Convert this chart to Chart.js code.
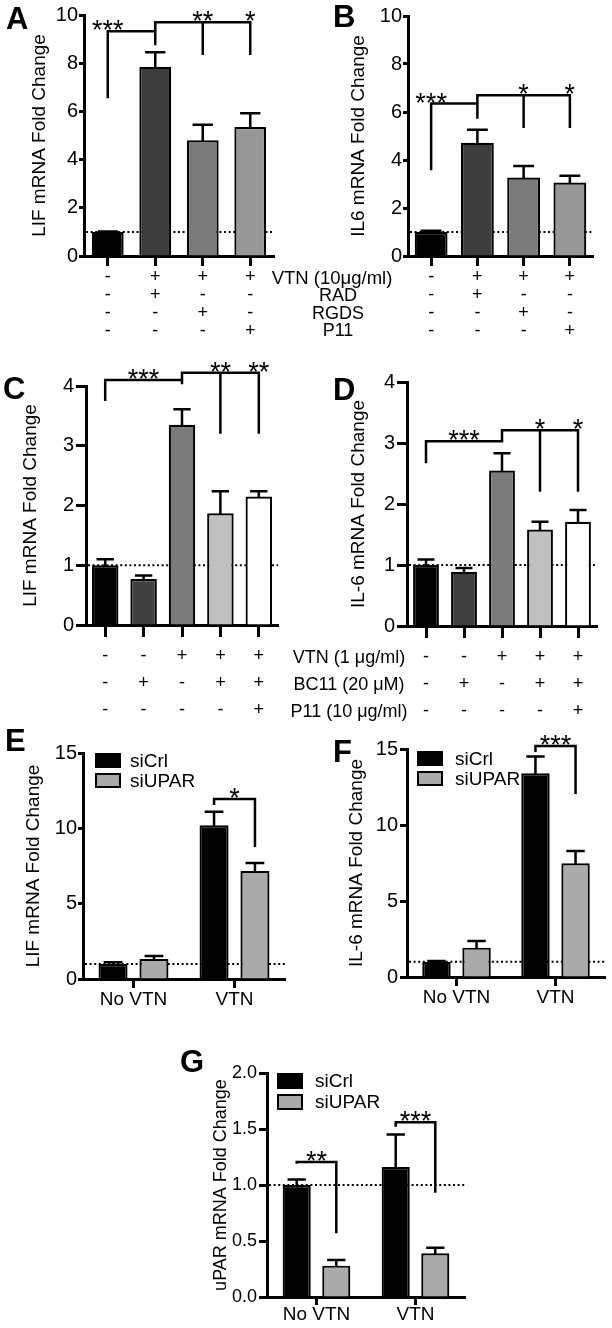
<!DOCTYPE html>
<html><head><meta charset="utf-8">
<script src="https://cdn.jsdelivr.net/npm/chart.js@4.4.1/dist/chart.umd.min.js"></script>
<style>
html,body{margin:0;padding:0;background:#fff;}
body{width:612px;height:1328px;position:relative;overflow:hidden;font-family:"Liberation Sans",Arial,Helvetica,sans-serif;color:#000;}
canvas{position:absolute;}
.lt{position:absolute;font-weight:bold;font-size:31px;line-height:1;}
.rl{position:absolute;font-size:18px;line-height:1;white-space:nowrap;transform:translate(-50%,-50%);}
</style></head><body>
<canvas id="cA" width="300" height="345" style="left:0;top:0"></canvas>
<canvas id="cB" width="312" height="345" style="left:300px;top:0"></canvas>
<canvas id="cC" width="300" height="390" style="left:0;top:340px"></canvas>
<canvas id="cD" width="312" height="390" style="left:300px;top:340px"></canvas>
<canvas id="cE" width="300" height="300" style="left:0;top:720px"></canvas>
<canvas id="cF" width="312" height="300" style="left:300px;top:720px"></canvas>
<canvas id="cG" width="330" height="298" style="left:150px;top:1030px"></canvas>

<div class="lt" style="left:6px;top:3px">A</div>
<div class="lt" style="left:333px;top:1px">B</div>
<div class="lt" style="left:3px;top:373px">C</div>
<div class="lt" style="left:333px;top:374px">D</div>
<div class="lt" style="left:5px;top:725px">E</div>
<div class="lt" style="left:333px;top:736px">F</div>
<div class="lt" style="left:180px;top:1046px">G</div>

<div class="rl" style="left:332px;top:278px;font-size:18.5px">VTN (10μg/ml)</div>
<div class="rl" style="left:338px;top:295px">RAD</div>
<div class="rl" style="left:338px;top:313px">RGDS</div>
<div class="rl" style="left:338px;top:330px">P11</div>

<div class="rl" style="left:349px;top:657px">VTN (1 μg/ml)</div>
<div class="rl" style="left:349px;top:684px">BC11 (20 μM)</div>
<div class="rl" style="left:349px;top:711px">P11 (10 μg/ml)</div>

<script>
// ---------- DATA ----------
// Panels A & B: treatment rows (VTN 10 ug/ml, RAD, RGDS, P11)
const rowVTN10 = ['-', '+', '+', '+'];
const rowRAD   = ['-', '+', '-', '-'];
const rowRGDS  = ['-', '-', '+', '-'];
const rowP11a  = ['-', '-', '-', '+'];
const lifA     = [1.0, 7.85, 4.80, 5.35];
const lifAErr  = [0.02, 0.60, 0.65, 0.57];
const il6B     = [1.0, 4.72, 3.27, 3.06];
const il6BErr  = [0.05, 0.54, 0.48, 0.28];
const yTicksAB = [0, 2, 4, 6, 8, 10];

// Panels C & D: treatment rows (VTN 1 ug/ml, BC11, P11)
const rowVTN1  = ['-', '-', '+', '+', '+'];
const rowBC11  = ['-', '+', '-', '+', '+'];
const rowP11c  = ['-', '-', '-', '-', '+'];
const lifC     = [1.0, 0.77, 3.35, 1.87, 2.15];
const lifCErr  = [0.10, 0.06, 0.26, 0.37, 0.09];
const il6D     = [1.0, 0.89, 2.55, 1.58, 1.71];
const il6DErr  = [0.09, 0.06, 0.28, 0.13, 0.19];
const yTicksCD = [0, 1, 2, 3, 4];

// Panels E, F, G: grouped bars
const groups      = ['No VTN', 'VTN'];
const seriesNames = ['siCrl', 'siUPAR'];
const lifE_siCrl  = [1.0, 10.2];
const lifE_siUPAR = [1.33, 7.17];
const lifE_errCrl = [0.12, 0.9];
const lifE_errUP  = [0.2, 0.53];
const il6F_siCrl  = [1.0, 13.4];
const il6F_siUPAR = [1.93, 7.48];
const il6F_errCrl = [0.06, 1.1];
const il6F_errUP  = [0.44, 0.81];
const uparG_siCrl = [1.0, 1.16];
const uparG_siUPAR= [0.28, 0.39];
const uparG_errCrl= [0.05, 0.29];
const uparG_errUP = [0.05, 0.05];
const yTicksEF    = [0, 5, 10, 15];
const yTicksG     = [0, 0.5, 1.0, 1.5, 2.0];
const yTickLabelsG= ['0.0', '0.5', '1.0', '1.5', '2.0'];

// significance brackets: level, legs [category, dataset, bottom], stars
const sigA = [
  {level: 9.33, legs: [[0,0,6.55],[1,0,8.75]], stars: [['***',0,0]]},
  {level: 9.70, legs: [[1,0,9.33],[2,0,8.34],[3,0,8.34]], stars: [['**',2,0],['*',3,0]]}
];
const sigB = [
  {level: 6.35, legs: [[0,0,3.57],[1,0,5.72]], stars: [['***',0,0]]},
  {level: 6.70, legs: [[1,0,6.35],[2,0,5.33],[3,0,5.33]], stars: [['*',2,0],['*',3,0]]}
];
const sigC = [
  {level: 4.10, legs: [[0,0,3.75],[2,0,4.03]], stars: [['***',1,0]]},
  {level: 4.22, legs: [[2,0,4.10],[3,0,3.20],[4,0,3.20]], stars: [['**',3,0],['**',4,0]]}
];
const sigD = [
  {level: 3.03, legs: [[0,0,2.67],[2,0,3.03]], stars: [['***',1,0]]},
  {level: 3.21, legs: [[2,0,3.03],[3,0,2.20],[4,0,2.20]], stars: [['*',3,0],['*',4,0]]}
];
const sigE = [{level: 11.95, legs: [[1,0,11.55],[1,1,8.76]], stars: [['*','mid']]}];
const sigF = [{level: 15.2, legs: [[1,0,14.8],[1,1,12.04]], stars: [['***','mid']]}];
const sigG = [
  {level: 1.205, legs: [[0,0,1.19],[0,1,0.57]], stars: [['**','mid']]},
  {level: 1.56, legs: [[1,0,1.52],[1,1,0.93]], stars: [['***','mid']]}
];

// ---------- DRAWING ----------
const FONT = '"Liberation Sans", Arial, Helvetica, sans-serif';
Chart.defaults.font.family = FONT;
Chart.defaults.color = '#000';

function annotPlugin(ann) {
  return {
    id: 'annot',
    beforeDatasetsDraw(chart) {
      const {ctx, chartArea, scales: {y}} = chart;
      const py = y.getPixelForValue(ann.ref);
      ctx.save();
      ctx.strokeStyle = '#000'; ctx.lineWidth = 2; ctx.setLineDash([2, 2.6]);
      ctx.beginPath(); ctx.moveTo(chartArea.left + 2, py); ctx.lineTo(chartArea.right, py); ctx.stroke();
      ctx.restore();
    },
    afterDatasetsDraw(chart) {
      const {ctx, chartArea, scales: {y}} = chart;
      const xAt = (c, d) => chart.getDatasetMeta(d).data[c].x;
      ctx.save();
      ctx.strokeStyle = '#000'; ctx.lineWidth = 2.5; ctx.lineCap = 'square';
      // error bars (upper only)
      chart.data.datasets.forEach((ds, di) => {
        chart.getDatasetMeta(di).data.forEach((bar, i) => {
          const e = ann.errors[di][i];
          const top = y.getPixelForValue(ds.data[i] + e);
          const hw = bar.width * 0.28;
          ctx.beginPath();
          ctx.moveTo(bar.x, bar.y); ctx.lineTo(bar.x, top);
          ctx.moveTo(bar.x - hw, top); ctx.lineTo(bar.x + hw, top);
          ctx.stroke();
        });
      });
      // brackets
      ctx.lineCap = 'butt';
      ann.brackets.forEach(b => {
        const py = y.getPixelForValue(b.level);
        const xs = b.legs.map(l => xAt(l[0], l[1]));
        ctx.beginPath();
        ctx.moveTo(Math.min(...xs) - 1.2, py); ctx.lineTo(Math.max(...xs) + 1.2, py);
        b.legs.forEach((l, k) => { ctx.moveTo(xs[k], py); ctx.lineTo(xs[k], y.getPixelForValue(l[2])); });
        ctx.stroke();
        ctx.fillStyle = '#000';
        ctx.font = '27px ' + FONT;
        ctx.textAlign = 'center'; ctx.textBaseline = 'alphabetic';
        b.stars.forEach(s => {
          const sx = s[1] === 'mid' ? (xs[0] + xs[xs.length - 1]) / 2 : xAt(s[1], s[2]);
          ctx.fillText(s[0], sx, py + 8);
        });
      });
      // legend
      if (ann.legend) {
        const L = ann.legend;
        ctx.font = '19px ' + FONT; ctx.textAlign = 'left'; ctx.textBaseline = 'middle';
        ctx.lineWidth = 2;
        chart.data.datasets.forEach((ds, di) => {
          const bx = chartArea.left + L.dx, by = chartArea.top + L.dy + di * L.step;
          ctx.fillStyle = ds.backgroundColor;
          ctx.fillRect(bx, by, 26, L.h);
          ctx.strokeRect(bx + 1, by + 1, 24, L.h - 2);
          ctx.fillStyle = '#000';
          ctx.fillText(ds.label, bx + 26 + L.gap, by + L.h / 2 + 1);
        });
      }
      ctx.restore();
    }
  };
}

function panel(id, c) {
  new Chart(document.getElementById(id), {
    type: 'bar',
    data: {labels: c.labels, datasets: c.datasets},
    options: {
      responsive: false, animation: false,
      layout: {padding: {top: c.padTop, right: c.padRight, left: 0, bottom: 0}},
      plugins: {legend: {display: false}, tooltip: {enabled: false}},
      datasets: {bar: {barPercentage: c.barPct, categoryPercentage: c.catPct, borderWidth: 2.2, borderColor: '#000'}},
      scales: {
        x: {
          offset: true,
          grid: {offset: false, drawOnChartArea: false, tickLength: c.xTickLen, tickWidth: 3, tickColor: '#000', color: '#000'},
          border: {width: 3, color: '#000'},
          ticks: {font: c.xFont, color: '#000', padding: c.xTickPad, maxRotation: 0, autoSkip: false},
          afterFit: s => { s.height = c.xHeight; }
        },
        y: {
          min: 0, max: c.yMax,
          grid: {drawOnChartArea: false, tickLength: c.yTickLen, tickWidth: 3, tickColor: '#000', color: '#000'},
          border: {width: 3, color: '#000'},
          afterBuildTicks: s => { s.ticks = c.yTicks.map(v => ({value: v})); },
          ticks: {font: {size: c.yTickSize || 20}, color: '#000', padding: c.yTickPad,
                  callback: (v, i) => c.yTickLabels ? c.yTickLabels[i] : String(c.yTicks[i])},
          title: {display: true, text: c.yTitle, color: '#000', font: {size: c.titleSize || 19},
                  padding: {top: c.titlePad, bottom: 0}},
          afterFit: s => { s.width = c.yWidth; }
        }
      }
    },
    plugins: [annotPlugin(c.ann)]
  });
}

const singleDs = (vals, colors) => [{data: vals, backgroundColor: colors}];
const rowsAB = rowVTN10.map((v, i) => [v, rowRAD[i], rowRGDS[i], rowP11a[i]]);
const rowsCD = rowVTN1.map((v, i) => [v, rowBC11[i], rowP11c[i]]);

panel('cA', {
  labels: rowsAB, datasets: singleDs(lifA, ['#000000', '#3c3c3c', '#7a7a7a', '#979797']),
  yMax: 10, yTicks: yTicksAB, yTitle: 'LIF mRNA Fold Change', titlePad: 28.6,
  yWidth: 84, xHeight: 89, padTop: 15, padRight: 26, yTickLen: 5, yTickPad: 1,
  xTickLen: 10, xTickPad: 2, xFont: {size: 18, lineHeight: 1.0},
  barPct: 0.67, catPct: 1.0,
  ann: {ref: 1, errors: [lifAErr], brackets: sigA}
});
panel('cB', {
  labels: rowsAB, datasets: singleDs(il6B, ['#000000', '#3c3c3c', '#7a7a7a', '#979797']),
  yMax: 10, yTicks: yTicksAB, yTitle: 'IL6 mRNA Fold Change', titlePad: 47.6,
  yWidth: 108, xHeight: 89, padTop: 16, padRight: 19, yTickLen: 5, yTickPad: 1,
  xTickLen: 10, xTickPad: 2, xFont: {size: 18, lineHeight: 1.0},
  barPct: 0.71, catPct: 1.0,
  ann: {ref: 1, errors: [il6BErr], brackets: sigB}
});
panel('cC', {
  labels: rowsCD, datasets: singleDs(lifC, ['#000000', '#404040', '#7a7a7a', '#c0c0c0', '#ffffff']),
  yMax: 4, yTicks: yTicksCD, yTitle: 'LIF mRNA Fold Change', titlePad: 19.6,
  yWidth: 86, xHeight: 105, padTop: 46, padRight: 22, yTickLen: 10, yTickPad: 2,
  xTickLen: 12, xTickPad: 6, xFont: {size: 18, lineHeight: 1.5},
  barPct: 0.69, catPct: 1.0,
  ann: {ref: 1, errors: [lifCErr], brackets: sigC}
});
panel('cD', {
  labels: rowsCD, datasets: singleDs(il6D, ['#000000', '#404040', '#7a7a7a', '#c0c0c0', '#ffffff']),
  yMax: 4, yTicks: yTicksCD, yTitle: 'IL-6 mRNA Fold Change', titlePad: 47.6,
  yWidth: 107, xHeight: 104, padTop: 42, padRight: 15, yTickLen: 10, yTickPad: 2,
  xTickLen: 12, xTickPad: 6, xFont: {size: 18, lineHeight: 1.5},
  barPct: 0.68, catPct: 1.0,
  ann: {ref: 1, errors: [il6DErr], brackets: sigD}
});
const grouped = (a, b) => [
  {label: seriesNames[0], data: a, backgroundColor: '#000000'},
  {label: seriesNames[1], data: b, backgroundColor: '#aaaaaa'}
];
panel('cE', {
  labels: groups, datasets: grouped(lifE_siCrl, lifE_siUPAR),
  yMax: 15, yTicks: yTicksEF, yTitle: 'LIF mRNA Fold Change', titlePad: 22.6,
  yWidth: 83, xHeight: 41, padTop: 33, padRight: 15, yTickLen: 5, yTickPad: 1,
  xTickLen: 9, xTickPad: 2.5, xFont: {size: 19, lineHeight: 1.0},
  barPct: 0.71, catPct: 0.81,
  ann: {ref: 1, errors: [lifE_errCrl, lifE_errUP], brackets: sigE, legend: {dx: 12, dy: 0, step: 20, h: 15, gap: 9}}
});
panel('cF', {
  labels: groups, datasets: grouped(il6F_siCrl, il6F_siUPAR),
  yMax: 15, yTicks: yTicksEF, yTitle: 'IL-6 mRNA Fold Change', titlePad: 45.6,
  yWidth: 107, xHeight: 43, padTop: 29, padRight: 7, yTickLen: 7, yTickPad: 2,
  xTickLen: 9, xTickPad: 2.5, xFont: {size: 19, lineHeight: 1.0},
  barPct: 0.71, catPct: 0.81,
  ann: {ref: 1, errors: [il6F_errCrl, il6F_errUP], brackets: sigF, legend: {dx: 10, dy: 2, step: 20, h: 15, gap: 12}}
});
panel('cG', {
  labels: groups, datasets: grouped(uparG_siCrl, uparG_siUPAR),
  yMax: 2, yTicks: yTicksG, yTickLabels: yTickLabelsG, yTitle: 'uPAR mRNA Fold Change', titlePad: 60.5, titleSize: 18,
  yWidth: 117, xHeight: 31, padTop: 43, padRight: 15, yTickLen: 8, yTickPad: 2, yTickSize: 18,
  xTickLen: 8, xTickPad: 0, xFont: {size: 19, lineHeight: 1.0},
  barPct: 0.71, catPct: 0.80,
  ann: {ref: 1, errors: [uparG_errCrl, uparG_errUP], brackets: sigG, legend: {dx: 10, dy: 0, step: 21, h: 16, gap: 12}}
});
</script>
</body></html>
